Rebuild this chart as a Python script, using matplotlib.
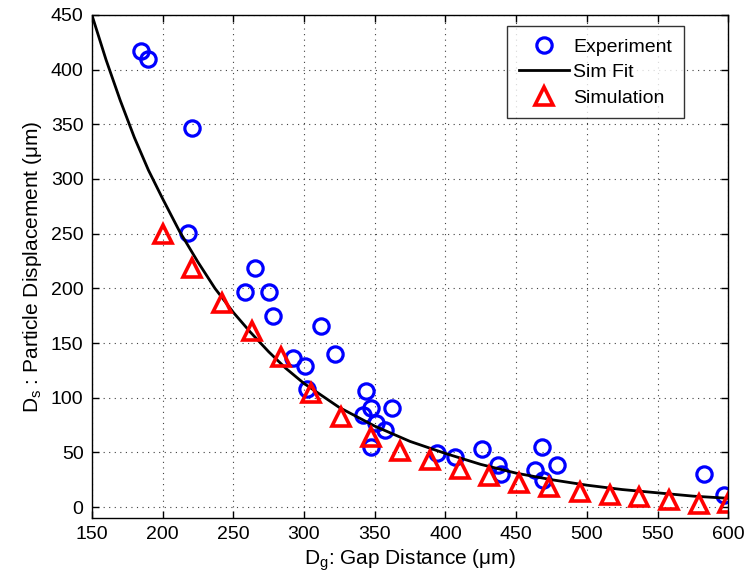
import numpy as np
import matplotlib.pyplot as plt

plt.rcParams["font.family"] = ["Liberation Sans", "DejaVu Sans"]

# Experiment points
exp_x = [185, 190, 221, 218, 265, 258, 275, 278, 312, 322, 292, 301, 302,
         344, 347, 342, 351, 357, 362, 347, 394, 407, 426, 437, 439, 468,
         463, 469, 479, 583, 597]
exp_y = [417, 410, 347, 251, 219, 197, 197, 175, 166, 140, 136, 129, 108,
         106, 91, 84, 77, 70, 91, 55, 49, 46, 53, 38, 30, 55,
         34, 25, 38, 30, 11]

# Simulation points
sim_x = [200, 221, 242, 263, 284, 305, 326, 347, 368, 389, 410, 431, 452,
         473, 495, 516, 537, 558, 579, 600]
sim_y = [250, 219, 187, 161, 137, 104, 82, 64, 51, 43, 35, 28, 22,
         18, 14, 11, 9, 6, 3, 4]

# Sim fit curve
fit_x = [150, 160, 170, 180, 190, 200, 212, 225, 237, 250, 262, 275, 287,
         300, 325, 350, 375, 400, 425, 450, 475, 500, 525, 550, 575, 600]
fit_y = [450, 409, 372, 338, 308, 282, 252, 224, 200, 178, 160, 142, 127,
         113, 91, 74, 60, 49, 39, 31, 25, 20, 16, 13, 10, 8]

fig = plt.figure(figsize=(7.47, 5.73), dpi=100)
ax = fig.add_axes([0.123, 0.096, 0.852, 0.878])

ax.plot(exp_x, exp_y, linestyle="none", marker="o", markersize=11,
        markerfacecolor="none", markeredgecolor="#0000ff",
        markeredgewidth=2.3, label="Experiment")
ax.plot(fit_x, fit_y, color="black", linewidth=2, label="Sim Fit")
ax.plot(sim_x, sim_y, linestyle="none", marker="^", markersize=13,
        markerfacecolor="none", markeredgecolor="#ff0000",
        markeredgewidth=2.6, label="Simulation")

ax.set_xlim(150, 600)
ax.set_ylim(-10, 450)
ax.set_xticks(np.arange(150, 601, 50))
ax.set_yticks(np.arange(0, 451, 50))
ax.tick_params(direction="in", top=True, right=True, length=5,
               labelsize=14, width=1, pad=6)
for s in ax.spines.values():
    s.set_linewidth(1)
ax.grid(True, linestyle=(0, (1, 4)), color="0.25", linewidth=0.8)
ax.set_axisbelow(True)

ax.set_xlabel(r"D$_\mathregular{g}$: Gap Distance (μm)", fontsize=15,
              labelpad=3)
ax.set_ylabel(r"D$_\mathregular{s}$ : Particle Displacement (μm)",
              fontsize=15, labelpad=5)

leg = ax.legend(loc="upper right", bbox_to_anchor=(0.93, 0.977),
                borderaxespad=0, fancybox=False, edgecolor="black",
                fontsize=14, handlelength=2.6, handletextpad=0.2,
                labelspacing=0.4, markerscale=1.0, borderpad=0.6)
leg.get_frame().set_linewidth(1)

fig.savefig("out.png", dpi=100)
